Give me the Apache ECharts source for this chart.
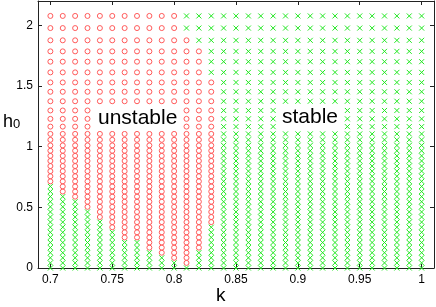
<!DOCTYPE html>
<html><head><meta charset="utf-8">
<script src="https://cdn.jsdelivr.net/npm/echarts@6/dist/echarts.min.js"></script>
<style>html,body{margin:0;padding:0;background:#fff}#c{width:436px;height:307px}</style>
</head><body><div id="c"></div>
<script>
// k columns
const kValues = [0.70,0.71,0.72,0.73,0.74,0.75,0.76,0.77,0.78,0.79,0.80,0.81,0.82,0.83,0.84,0.85,0.86,0.87,0.88,0.89,0.90,0.91,0.92,0.93,0.94,0.95,0.96,0.97,0.98,0.99,1.00];
// h0 rows of the sampling grid
const h0Rows = [0,0.042,0.084,0.126,0.168,0.210,0.252,0.294,0.336,0.378,0.420,0.462,0.504,0.546,0.588,0.630,0.672,0.714,0.756,0.798,0.840,0.882,0.924,0.966,1.010,1.056,1.105,1.165,1.229,1.298,1.374,1.452,1.529,1.612,1.700,1.785,1.876,1.977,2.077];
// per column: stable (x) for h0 <= stableBelow, and for h0 >= stableAbove; unstable (o) between
const stableBelow = [0.68,0.60,0.57,0.49,0.40,0.30,0.25,0.21,0.15,0.10,0.045,0.0,0.16,0.375,9,9,9,9,9,9,9,9,9,9,9,9,9,9,9,9,9];
const stableAbove = [9,9,9,9,9,9,9,9,9,9,9,1.95,1.85,1.6,9,9,9,9,9,9,9,9,9,9,9,9,9,9,9,9,9];
const xTicks = [0.7,0.75,0.8,0.85,0.9,0.95,1];
const yTicks = [0,0.5,1,1.5,2];

const unstablePts = [], stablePts = [];
kValues.forEach((k, i) => {
  h0Rows.forEach(h => {
    if (h <= stableBelow[i] + 1e-9 || h >= stableAbove[i]) stablePts.push([k, h]);
    else unstablePts.push([k, h]);
  });
});

const FONT = '"Liberation Sans", Arial, sans-serif';
const chart = echarts.init(document.getElementById('c'), null, {renderer: 'canvas'});
const axisCommon = {
  type: 'value',
  axisLine: {show: true, onZero: false, lineStyle: {color: '#222', width: 1}},
  splitLine: {show: false},
};
chart.setOption({
  animation: false,
  backgroundColor: '#fff',
  grid: {left: 38, right: 2, top: 1, bottom: 39, containLabel: false, outerBoundsMode: 'none'},
  xAxis: [
    Object.assign({}, axisCommon, {
      min: 0.69, max: 1.01, position: 'bottom',
      axisTick: {show: true, inside: true, length: 4, customValues: xTicks, lineStyle: {color: '#222'}},
      axisLabel: {show: true, customValues: xTicks, margin: 6, fontSize: 12, color: '#000', fontFamily: FONT, formatter: v => String(v)}
    }),
    Object.assign({}, axisCommon, {
      min: 0.69, max: 1.01, position: 'top',
      axisTick: {show: true, inside: true, length: 4, customValues: xTicks, lineStyle: {color: '#222'}},
      axisLabel: {show: false}
    })
  ],
  yAxis: [
    Object.assign({}, axisCommon, {
      min: 0, max: 2.2, position: 'left',
      axisTick: {show: true, inside: true, length: 4, customValues: yTicks, lineStyle: {color: '#222'}},
      axisLabel: {show: true, customValues: yTicks, margin: 5, fontSize: 12, color: '#000', fontFamily: FONT, formatter: v => String(v)}
    }),
    Object.assign({}, axisCommon, {
      min: 0, max: 2.2, position: 'right',
      axisTick: {show: true, inside: true, length: 4, customValues: yTicks, lineStyle: {color: '#222'}},
      axisLabel: {show: false}
    })
  ],
  series: [
    {
      name: 'unstable', type: 'scatter', data: unstablePts, symbol: 'circle', symbolSize: 5,
      itemStyle: {color: 'none', borderColor: '#ff5a5a', borderWidth: 1, opacity: 1},
      silent: true, z: 2
    },
    {
      name: 'stable', type: 'scatter', data: stablePts, symbol: 'path://M0,0L10,10M10,0L0,10', symbolSize: 5,
      itemStyle: {color: 'none', borderColor: '#22e822', borderWidth: 1, opacity: 1},
      silent: true, z: 3
    }
  ],
  graphic: [
    {type: 'rect', z: 100, shape: {x: 93, y: 105, width: 88, height: 26}, style: {fill: '#fff'}},
    {type: 'text', z: 101, x: 98, y: 108, style: {text: 'unstable', font: '21px ' + FONT, fill: '#000'}},
    {type: 'rect', z: 100, shape: {x: 279, y: 106, width: 63, height: 24}, style: {fill: '#fff'}},
    {type: 'text', z: 101, x: 282, y: 107, style: {text: 'stable', font: '21px ' + FONT, fill: '#000'}},
    {type: 'text', z: 101, x: 216, y: 286, style: {text: 'k', font: '19px ' + FONT, fill: '#000'}},
    {type: 'text', z: 101, x: 3, y: 113, style: {
      text: '{h|h}{s|0}', fill: '#000',
      rich: {h: {fontSize: 18, fontFamily: FONT, fill: '#000', verticalAlign: 'bottom'},
             s: {fontSize: 13, fontFamily: FONT, fill: '#000', verticalAlign: 'bottom'}}
    }}
  ]
});
</script>
</body></html>
